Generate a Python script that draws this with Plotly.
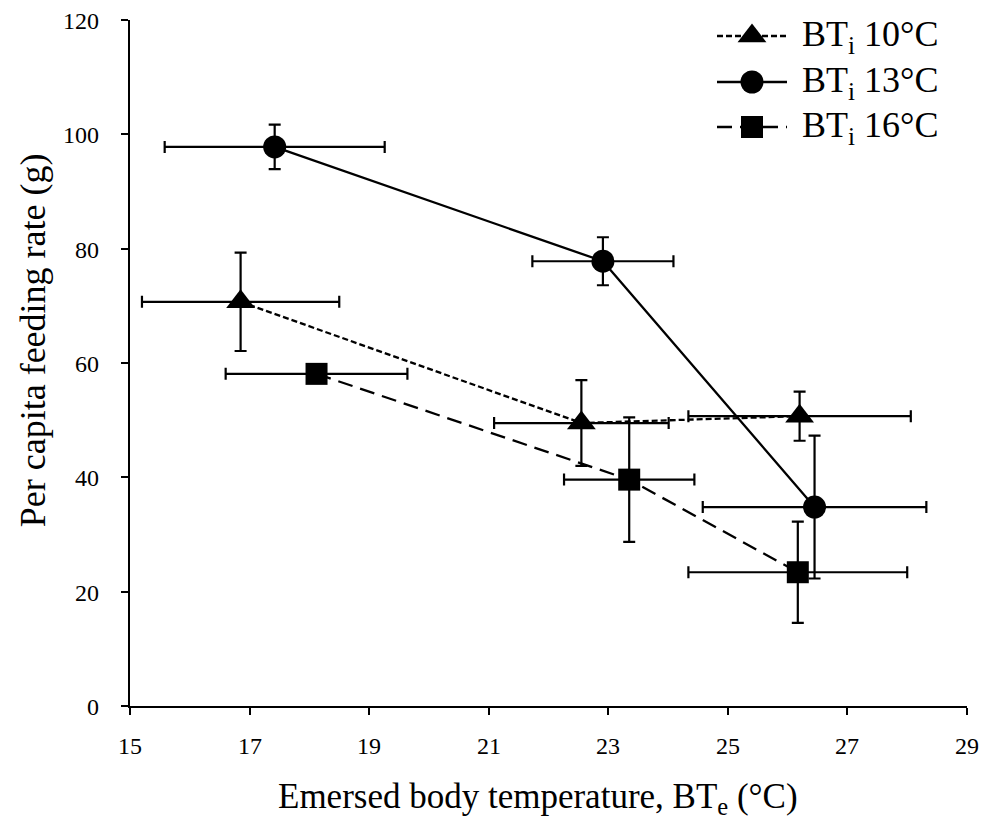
import plotly.graph_objects as go

# Data
series_names = ["BT<sub>i</sub> 10°C", "BT<sub>i</sub> 13°C", "BT<sub>i</sub> 16°C"]

bt10_x = [16.85, 22.55, 26.20]
bt10_y = [70.7, 49.5, 50.7]
bt10_xerr = [1.65, 1.46, 1.86]
bt10_yerr = [8.6, 7.5, 4.3]

bt13_x = [17.42, 22.91, 26.45]
bt13_y = [97.8, 77.8, 34.8]
bt13_xerr = [1.84, 1.18, 1.87]
bt13_yerr = [3.9, 4.2, 12.5]

bt16_x = [18.12, 23.35, 26.17]
bt16_y = [58.1, 39.6, 23.4]
bt16_xerr = [1.52, 1.09, 1.83]
bt16_yerr = [1.5, 10.9, 8.85]

x_ticks = [15, 17, 19, 21, 23, 25, 27, 29]
y_ticks = [0, 20, 40, 60, 80, 100, 120]

FONT = "Liberation Serif"

W, H = 983, 820
ML, MR, MT, MB = 130, 16, 20, 114

fig = go.Figure()

styles = [
    (bt10_x, bt10_y, bt10_xerr, bt10_yerr, "triangle-up", 25, "6px,3px"),
    (bt13_x, bt13_y, bt13_xerr, bt13_yerr, "circle", 23, "solid"),
    (bt16_x, bt16_y, bt16_xerr, bt16_yerr, "square", 22, "15px,8px"),
]

for name, (xs, ys, xe, ye, sym, sz, dash) in zip(series_names, styles):
    fig.add_trace(go.Scatter(
        x=xs, y=ys, name=name, mode="lines+markers", showlegend=False,
        line=dict(color="black", width=2.3, dash=dash),
        marker=dict(symbol=sym, size=sz, color="black"),
        error_x=dict(type="data", array=xe, visible=True, color="black",
                     thickness=2.2, width=6),
        error_y=dict(type="data", array=ye, visible=True, color="black",
                     thickness=2.2, width=6),
    ))

# Manual legend drawn on an overlay axis in pixel units
leg_rows = [36, 82, 127]
leg_x0, leg_x1, leg_text = 717, 787, 800
for name, row, (_, _, _, _, sym, sz, dash) in zip(series_names, leg_rows, styles):
    fig.add_trace(go.Scatter(
        x=[leg_x0, leg_x1], y=[row, row], mode="lines", xaxis="x2", yaxis="y2",
        showlegend=False, hoverinfo="skip",
        line=dict(color="black", width=2.3, dash=dash),
    ))
    fig.add_trace(go.Scatter(
        x=[(leg_x0 + leg_x1) / 2], y=[row], mode="markers", xaxis="x2", yaxis="y2",
        showlegend=False, hoverinfo="skip",
        marker=dict(symbol=sym, size=sz, color="black"),
    ))
    fig.add_annotation(
        text=name, x=leg_text, y=row, xref="x2", yref="y2",
        xanchor="left", yanchor="middle", showarrow=False,
        font=dict(family=FONT, size=36, color="black"),
    )

tick_font = dict(family=FONT, size=24, color="black")

fig.update_layout(
    template="none",
    width=W, height=H,
    margin=dict(l=ML, r=MR, t=MT, b=MB, autoexpand=False),
    paper_bgcolor="white", plot_bgcolor="white",
    font=dict(family=FONT, size=24, color="black"),
    showlegend=False,
    xaxis=dict(
        range=[15, 29], tickmode="array", tickvals=x_ticks, showticklabels=False,
        automargin=False,
        showgrid=False, zeroline=False, showline=True, linecolor="black",
        linewidth=2, ticks="outside", ticklen=7, tickwidth=2, tickcolor="black",
    ),
    yaxis=dict(
        range=[0, 120], tickmode="array", tickvals=y_ticks, showticklabels=False,
        automargin=False,
        showgrid=False, zeroline=False, showline=True, linecolor="black",
        linewidth=2, ticks="outside", ticklen=7, tickwidth=2, tickcolor="black",
    ),
    xaxis2=dict(range=[ML, W - MR], overlaying="x", visible=False, fixedrange=True),
    yaxis2=dict(range=[H - MB, MT], overlaying="y", visible=False, fixedrange=True),
)

# Tick labels placed at the axis values
for v in x_ticks:
    fig.add_annotation(
        text=str(v), x=v, xref="x", y=0, yref="paper",
        xanchor="center", yanchor="middle", yshift=-40, showarrow=False,
        font=tick_font)
for v in y_ticks:
    fig.add_annotation(
        text=str(v), x=0, xref="paper", y=v, yref="y",
        xanchor="right", yanchor="middle", xshift=-29, yshift=-1, showarrow=False,
        font=tick_font)

fig.add_annotation(
    text="Emersed body temperature, BT<sub>e</sub> (°C)",
    xref="paper", yref="paper", x=0.4875, y=-0.135,
    xanchor="center", yanchor="middle", showarrow=False,
    font=dict(family=FONT, size=35, color="black"))
fig.add_annotation(
    text="Per capita feeding rate (g)",
    xref="paper", yref="paper", x=-0.116, y=0.533,
    xanchor="center", yanchor="middle", textangle=-90, showarrow=False,
    font=dict(family=FONT, size=36, color="black"))

fig.write_html("out.html")
